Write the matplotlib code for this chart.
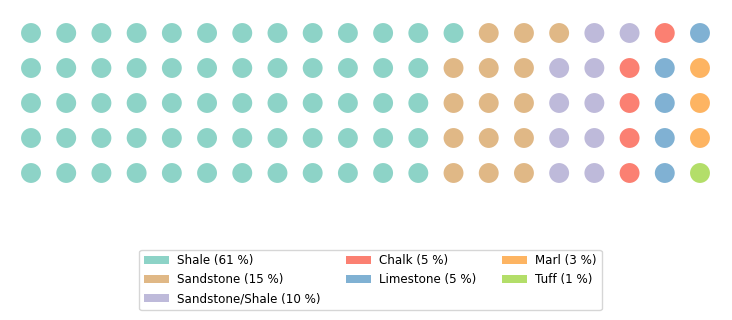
import matplotlib
matplotlib.use("Agg")
import matplotlib.pyplot as plt
from matplotlib.patches import Patch

categories = ["Shale", "Sandstone", "Sandstone/Shale", "Chalk", "Limestone", "Marl", "Tuff"]
values = [61, 15, 10, 5, 5, 3, 1]
colors = ["#8dd3c7", "#e0b886", "#bebada", "#fb8072", "#80b1d3", "#fdb462", "#b3de69"]
n_rows, n_cols = 5, 20

fig = plt.figure(figsize=(7.32, 3.2), dpi=100)
ax = fig.add_axes([13.4 / 732, (320 - 190.5) / 320, 704.2 / 732, 175 / 320])

xs, ys, cs = [], [], []
k = 0
for cat_i, v in enumerate(values):
    for _ in range(v):
        col, row = divmod(k, n_rows)
        xs.append(col)
        ys.append(row)
        cs.append(colors[cat_i])
        k += 1

ax.scatter(xs, ys, c=cs, s=205, linewidths=0)
ax.set_xlim(-0.5, n_cols - 0.5)
ax.set_ylim(n_rows - 0.5, -0.5)
ax.axis("off")

handles = [Patch(facecolor=c, edgecolor="none", label=f"{cat} ({v} %)")
           for cat, v, c in zip(categories, values, colors)]
fs = 8.6
fig.legend(handles=handles, loc="lower center", bbox_to_anchor=(0.506, 0.031),
           ncol=3, fontsize=fs, frameon=True, borderaxespad=0,
           handlelength=18 / fs, handletextpad=6 / fs, columnspacing=18.2 / fs)

fig.savefig("out.png", dpi=100)
